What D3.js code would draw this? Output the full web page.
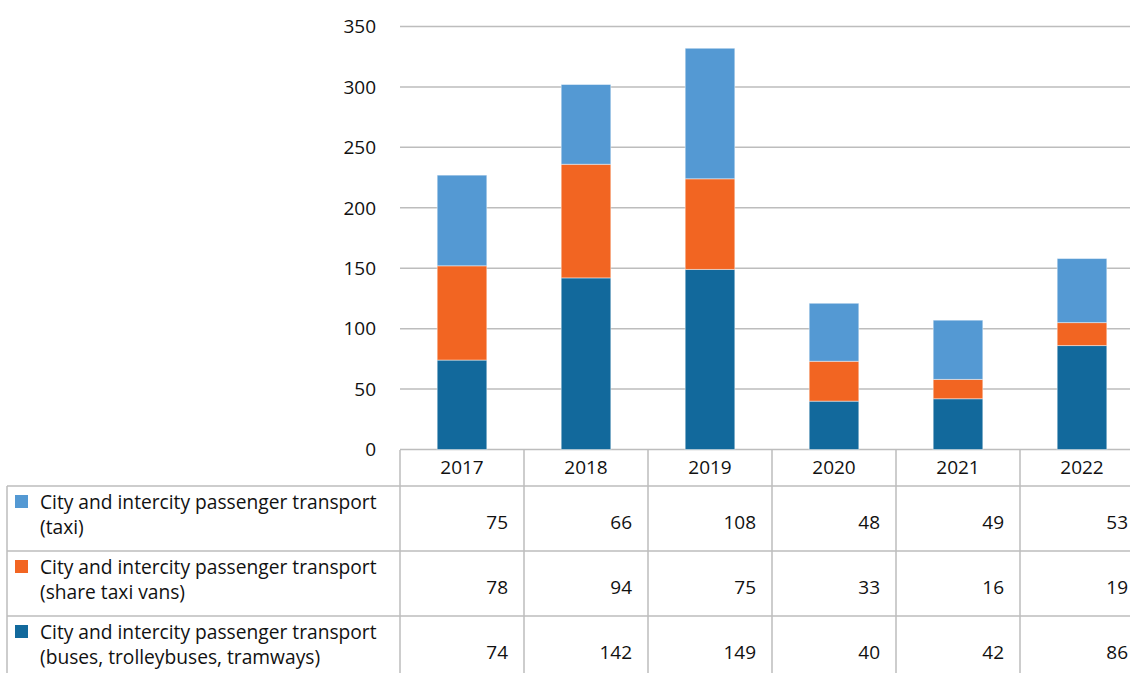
<!DOCTYPE html>
<html><head><meta charset="utf-8">
<script src="https://cdn.jsdelivr.net/npm/d3@7"></script>
<style>body{margin:0;background:#fff}svg{display:block;font-family:"Open Sans",sans-serif}</style>
</head><body><svg id="c" width="1130" height="673"></svg>
<script>
const years = ["2017","2018","2019","2020","2021","2022"];
const taxi = [75,66,108,48,49,53];
const shareVans = [78,94,75,33,16,19];
const buses = [74,142,149,40,42,86];
const yTicks = [0,50,100,150,200,250,300,350];
const seriesNames = [
  ["City and intercity passenger transport","(taxi)"],
  ["City and intercity passenger transport","(share taxi vans)"],
  ["City and intercity passenger transport","(buses, trolleybuses, tramways)"]
];
const colors = {buses:"#12699C", share:"#F26522", taxi:"#5499D3"};

const svg = d3.select("#c");
const x = d3.scaleBand().domain(years).range([400,1144]).padding(0);
const y = d3.scaleLinear().domain([0,350]).range([449.5,26.5]);
const grid = "#BDBDBD";
const ink = "#111";

svg.append("g").selectAll("line").data(yTicks).join("line")
  .attr("x1",400).attr("x2",1144).attr("y1",d=>y(d)).attr("y2",d=>y(d))
  .attr("stroke",grid).attr("stroke-width",1.5);
svg.append("g").selectAll("text").data(yTicks).join("text")
  .attr("x",376).attr("y",d=>y(d)+6.8).attr("text-anchor","end")
  .attr("font-size",19).attr("fill",ink).text(d=>d);

const rows = years.map((yr,i)=>({year:yr,buses:buses[i],share:shareVans[i],taxi:taxi[i]}));
const stack = d3.stack().keys(["buses","share","taxi"])(rows);
const bw = x.bandwidth()*0.4;
svg.append("g").selectAll("g").data(stack).join("g")
  .attr("fill",d=>colors[d.key])
  .selectAll("rect").data(d=>d).join("rect")
  .attr("x",d=>x(d.data.year)+(x.bandwidth()-bw)/2)
  .attr("width",bw)
  .attr("y",d=>y(d[1]))
  .attr("height",d=>y(d[0])-y(d[1]))
  .attr("stroke","rgba(255,255,255,0.45)").attr("stroke-width",1);

const rowTops = [486,551,616,681];
const tbl = svg.append("g");
const colEdges = years.map(d=>x(d)).concat([x.range()[1]]);
tbl.selectAll("line.v").data(colEdges).join("line").attr("class","v")
  .attr("x1",d=>d).attr("x2",d=>d).attr("y1",450).attr("y2",673)
  .attr("stroke",grid).attr("stroke-width",1.5);
tbl.append("line").attr("x1",7).attr("x2",7).attr("y1",486).attr("y2",673)
  .attr("stroke",grid).attr("stroke-width",1.5);
tbl.selectAll("line.h").data(rowTops.slice(0,3)).join("line").attr("class","h")
  .attr("x1",7).attr("x2",1144).attr("y1",d=>d).attr("y2",d=>d)
  .attr("stroke",grid).attr("stroke-width",1.5);
tbl.selectAll("text.yr").data(years).join("text").attr("class","yr")
  .attr("x",d=>x(d)+x.bandwidth()/2).attr("y",474)
  .attr("text-anchor","middle").attr("font-size",19).attr("fill",ink).text(d=>d);

const seriesData = [taxi, shareVans, buses];
const seriesColors = [colors.taxi, colors.share, colors.buses];
seriesData.forEach((vals,r)=>{
  const top = rowTops[r];
  tbl.append("rect").attr("x",15).attr("y",top+9).attr("width",13).attr("height",13)
    .attr("fill",seriesColors[r]);
  const t = tbl.append("text").attr("font-size",19.2).attr("fill",ink);
  t.append("tspan").attr("x",40).attr("y",top+23).text(seriesNames[r][0]);
  t.append("tspan").attr("x",40).attr("y",top+48).text(seriesNames[r][1]);
  tbl.selectAll(null).data(vals).join("text")
    .attr("x",(d,i)=>x(years[i])+x.bandwidth()-16).attr("y",top+43)
    .attr("text-anchor","end").attr("font-size",19).attr("fill",ink).text(d=>d);
});
</script></body></html>
